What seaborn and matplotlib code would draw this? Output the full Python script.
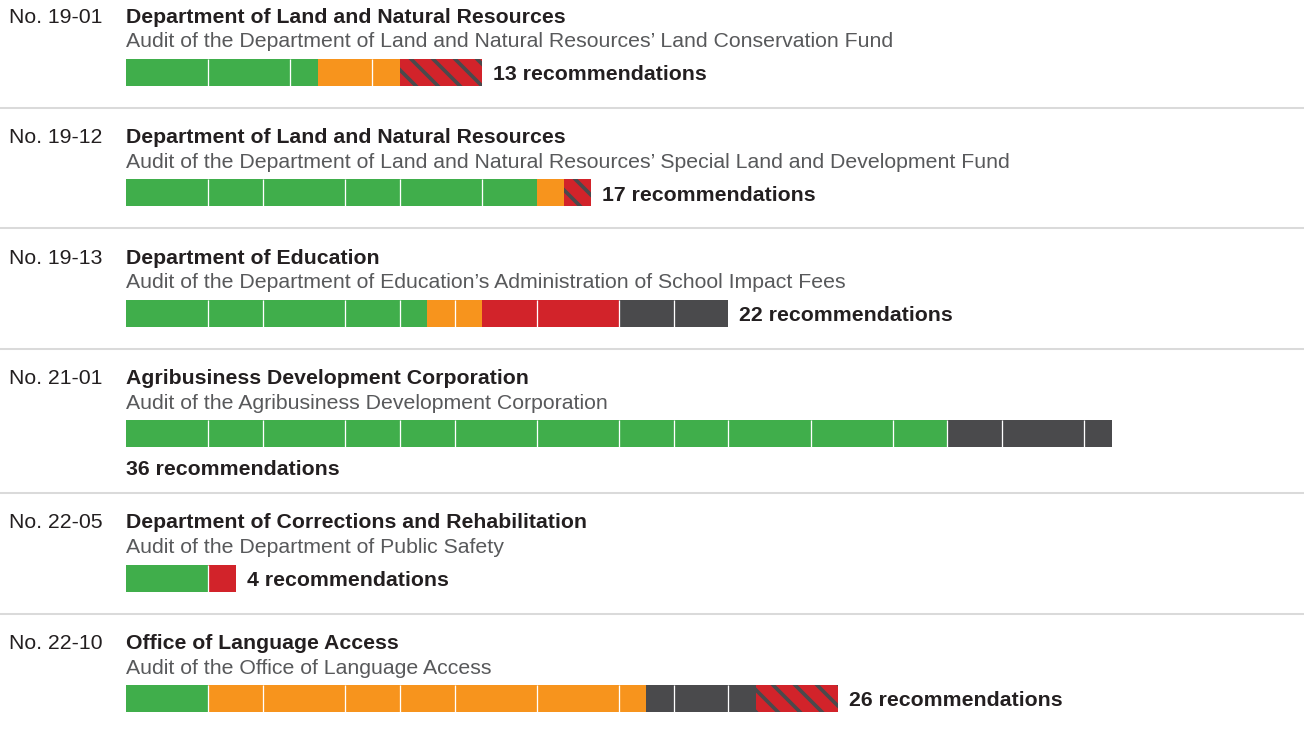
import matplotlib
matplotlib.use("Agg")
import matplotlib.pyplot as plt
import numpy as np
import pandas as pd
import seaborn as sns

# Report data
report_nos = ["No. 19-01", "No. 19-12", "No. 19-13", "No. 21-01", "No. 22-05", "No. 22-10"]
agencies = [
    "Department of Land and Natural Resources",
    "Department of Land and Natural Resources",
    "Department of Education",
    "Agribusiness Development Corporation",
    "Department of Corrections and Rehabilitation",
    "Office of Language Access",
]
audit_titles = [
    "Audit of the Department of Land and Natural Resources\u2019 Land Conservation Fund",
    "Audit of the Department of Land and Natural Resources\u2019 Special Land and Development Fund",
    "Audit of the Department of Education\u2019s Administration of School Impact Fees",
    "Audit of the Agribusiness Development Corporation",
    "Audit of the Department of Public Safety",
    "Audit of the Office of Language Access",
]

# recommendation counts by status (green, orange, red, dark grey, red hatched)
green = [7, 15, 11, 30, 3, 3]
orange = [3, 1, 2, 0, 0, 16]
red = [0, 0, 5, 0, 1, 0]
grey = [0, 0, 4, 6, 0, 4]
hatched = [3, 1, 0, 0, 0, 3]

# thin white dividers seen inside the bars (in recommendations)
dividers = [
    [3, 6, 9],
    [3, 5, 8, 10, 13],
    [3, 5, 8, 10, 12, 15, 18, 20],
    [3, 5, 8, 10, 12, 15, 18, 20, 22, 25, 28, 30, 32, 35],
    [3],
    [3, 5, 8, 10, 12, 15, 18, 20, 22],
]

C_GREEN = "#40ae4b"
C_ORANGE = "#f7941d"
C_RED = "#d2232a"
C_GREY = "#4a4a4c"
C_TEXT = "#231f20"
C_SUB = "#58595b"

sns.set_theme(style="white")
plt.rcParams["font.family"] = ["Liberation Sans", "DejaVu Sans"]
plt.rcParams["hatch.linewidth"] = 2.0
plt.rcParams["hatch.color"] = C_GREY

DPI = 132
W, H = 1304, 729
UNIT = 27.38   # pixels per recommendation
X0 = 126       # pixel where bars start
FS = 11.6

fig = plt.figure(figsize=(W / DPI, H / DPI), dpi=DPI)
ax = fig.add_axes([0, 0, 1, 1])

def px(x):
    return (x - X0) / UNIT

totals = np.array(green) + np.array(orange) + np.array(red) + np.array(grey) + np.array(hatched)
below = totals > 30

# row layout (pixel rows, top = 0)
tops = []
t = 14.0
for i in range(len(report_nos)):
    tops.append(t)
    t += 120.5 + (24 if below[i] else 0)
tops = np.array(tops)
centers = tops + 58

df = pd.DataFrame({
    "y": centers,
    "green": green, "orange": orange, "red": red, "grey": grey, "hatched": hatched,
})
cum = df[["green", "orange", "red", "grey", "hatched"]].cumsum(axis=1)

bar_w = 27 / 120.5
layers = [("hatched", C_RED, "\\\\"), ("grey", C_GREY, None), ("red", C_RED, None),
          ("orange", C_ORANGE, None), ("green", C_GREEN, None)]
for name, col, hat in layers:
    kw = dict(hatch=hat, edgecolor=C_GREY) if hat else dict(edgecolor="none")
    sns.barplot(x=cum[name], y=df["y"], orient="y", native_scale=True, width=bar_w,
                color=col, saturation=1, errorbar=None, linewidth=0, ax=ax, **kw)

for i in range(len(report_nos)):
    yc = centers[i]
    ax.vlines(dividers[i], yc - 13.5, yc + 13.5, color="white", lw=0.7)
    ax.text(px(9), tops[i] + 8.5, report_nos[i], fontsize=FS, color=C_TEXT, va="baseline")
    ax.text(0, tops[i] + 8.5, agencies[i], fontsize=FS, color=C_TEXT, weight="bold", va="baseline")
    ax.text(0, tops[i] + 33, audit_titles[i], fontsize=FS, color=C_SUB, va="baseline")
    label = f"{totals[i]} recommendations"
    if below[i]:
        ax.text(0, yc + 41.5, label, fontsize=FS, color=C_TEXT, weight="bold", va="baseline")
    else:
        ax.text(totals[i] + 11 / UNIT, yc + 8, label, fontsize=FS, color=C_TEXT,
                weight="bold", va="baseline")
    if i < len(report_nos) - 1:
        sep_y = tops[i + 1] - 27
        ax.hlines(sep_y, px(0), px(W), color="#dadada", lw=1.1)

ax.set_xlim(px(0), px(W))
ax.set_ylim(H, 0)
ax.set_axis_off()

fig.savefig("out.png", dpi=DPI)
